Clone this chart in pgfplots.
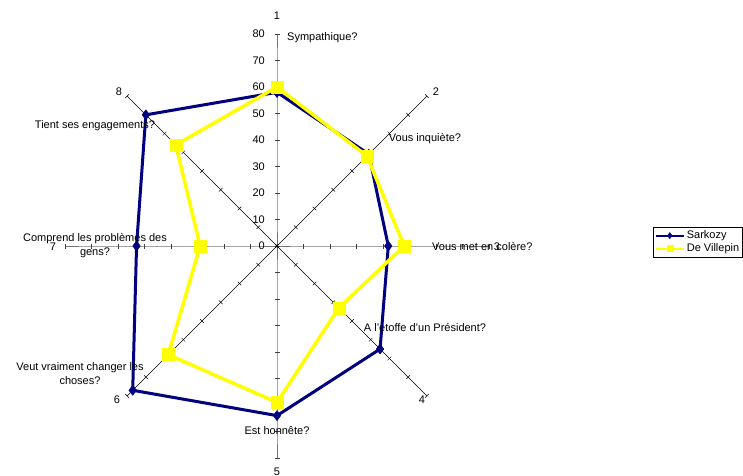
\documentclass[border=0pt]{standalone}
\usepackage{fontspec}
\setmainfont{Liberation Sans}
\usepackage{pgfplots}
\pgfplotsset{compat=1.18}
\usepgfplotslibrary{polar}
\definecolor{navyS}{HTML}{000080}
\definecolor{yel}{HTML}{FFFF00}
\begin{document}
\fontsize{11}{13}\selectfont
\begin{tikzpicture}[x=1pt,y=1pt]
\useasboundingbox (0,0) rectangle (743,475);
\begin{polaraxis}[
 at={(277pt,229pt)}, anchor=center,
 scale only axis, width=424pt, height=424pt,
 ymin=0, ymax=80, xmin=0, xmax=360,
 hide axis, clip=false,
 legend style={at={(1.3868,0.5448)}, anchor=north west, draw=black, line width=0.6pt,
   font=\fontsize{11}{13}\selectfont, inner sep=1.5pt, row sep=-0.5pt, cells={anchor=west}},
 legend image code/.code={\draw[mark repeat=2,mark phase=2,#1, line width=2pt, mark size=3pt] plot coordinates {(0pt,0pt)(14pt,0pt)(28pt,0pt)};},
]
% spokes
\addplot[forget plot, draw=black!55, line width=0.9pt, mark=-, mark size=2.5pt, mark options={solid, draw=black!75}]
  coordinates {(90,0)(90,10)(90,20)(90,30)(90,40)(90,50)(90,60)(90,70)(90,80)};
\addplot[forget plot, draw=black!55, line width=0.9pt, mark=-, mark size=2.5pt, mark options={solid, draw=black!75}]
  coordinates {(270,0)(270,10)(270,20)(270,30)(270,40)(270,50)(270,60)(270,70)(270,80)};
\addplot[forget plot, draw=black!55, line width=0.9pt, mark=|, mark size=2.5pt, mark options={solid, draw=black!75}]
  coordinates {(0,0)(0,10)(0,20)(0,30)(0,40)(0,50)(0,60)(0,70)(0,80)};
\addplot[forget plot, draw=black!55, line width=0.9pt, mark=|, mark size=2.5pt, mark options={solid, draw=black!75}]
  coordinates {(180,0)(180,10)(180,20)(180,30)(180,40)(180,50)(180,60)(180,70)(180,80)};
\addplot[forget plot, draw=black, line width=0.5pt, mark=|, mark size=2.5pt, mark options={solid, rotate=45}]
  coordinates {(45,0)(45,10)(45,20)(45,30)(45,40)(45,50)(45,60)(45,70)(45,80)};
\addplot[forget plot, draw=black, line width=0.5pt, mark=|, mark size=2.5pt, mark options={solid, rotate=135}]
  coordinates {(135,0)(135,10)(135,20)(135,30)(135,40)(135,50)(135,60)(135,70)(135,80)};
\addplot[forget plot, draw=black, line width=0.5pt, mark=|, mark size=2.5pt, mark options={solid, rotate=225}]
  coordinates {(225,0)(225,10)(225,20)(225,30)(225,40)(225,50)(225,60)(225,70)(225,80)};
\addplot[forget plot, draw=black, line width=0.5pt, mark=|, mark size=2.5pt, mark options={solid, rotate=315}]
  coordinates {(315,0)(315,10)(315,20)(315,30)(315,40)(315,50)(315,60)(315,70)(315,80)};
% series
\addplot[navyS, line width=3pt, mark=diamond*, mark size=5pt, mark options={solid, fill=navyS, line width=0.5pt}]
  coordinates {(90,58)(45,49)(0,42)(315,55)(270,64)(225,77)(180,53)(135,70)(90,58)};
\addlegendentry{Sarkozy}
\addplot[yel, line width=3.5pt, mark=square*, mark size=6pt, mark options={solid, fill=yel, line width=0.5pt}]
  coordinates {(90,60)(45,48)(0,48)(315,33)(270,59)(225,58)(180,29)(135,54)(90,60)};
\addlegendentry{De Villepin}
\pgfplotsinvokeforeach{0,10,20,30,40,50,60,70,80}{
  \node[anchor=east, inner sep=0pt] at (axis cs:90,#1) [xshift=-12pt] {#1};
}
\end{polaraxis}
% spoke numbers
\node at (277,459) {1};
\node at (436,383) {2};
\node at (497,228) {3};
\node at (422,75) {4};
\node at (277,3) {5};
\node at (117,75) {6};
\node at (53,228) {7};
\node at (119,383) {8};
% category labels
\node[anchor=west, inner sep=0pt] at (287,437) {Sympathique?};
\node at (425,336) {Vous inquiète?};
\node[anchor=west, inner sep=0pt] at (432,228) {Vous met en colère?};
\node at (425,148) {A l'étoffe d'un Président?};
\node at (277,44) {Est honnête?};
\node[align=center, font=\fontsize{11}{14}\selectfont] at (80,101.5) {Veut vraiment changer les\\choses?};
\node[align=center, font=\fontsize{11}{14}\selectfont] at (95,229) {Comprend les problèmes des\\gens?};
\node at (95,349) {Tient ses engagements?};
\end{tikzpicture}
\end{document}
